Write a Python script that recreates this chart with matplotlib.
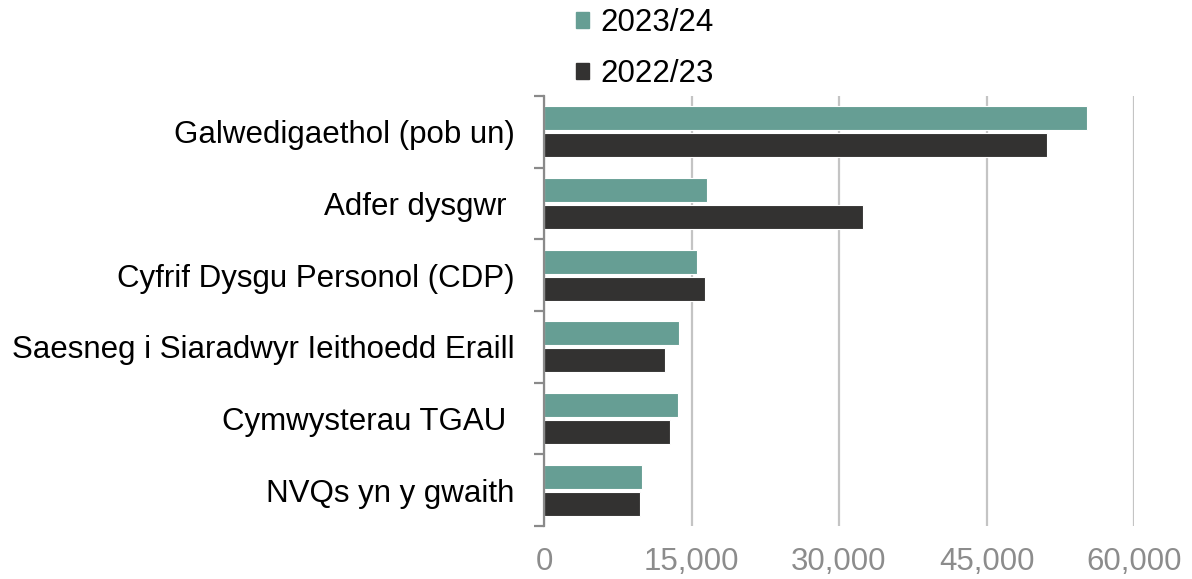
import numpy as np
import matplotlib.pyplot as plt
from matplotlib.patches import Patch
from matplotlib.ticker import FuncFormatter

plt.rcParams['font.family'] = ['Liberation Sans', 'DejaVu Sans']

categories = ['Galwedigaethol (pob un)', 'Adfer dysgwr ', 'Cyfrif Dysgu Personol (CDP)',
              'Saesneg i Siaradwyr Ieithoedd Eraill', 'Cymwysterau TGAU ', 'NVQs yn y gwaith']
vals_2324 = [55250, 16600, 15550, 13750, 13650, 9930]
vals_2223 = [51200, 32400, 16400, 12330, 12770, 9730]
series_names = ['2023/24', '2022/23']
teal = '#669e94'
dark = '#333231'
fs = 22.5

fig = plt.figure(figsize=(11.92, 5.79), dpi=100)
ax = fig.add_axes([544/1192, 1-526/579, (1134-544)/1192, (526-96)/579])

n = len(categories)
pos = np.arange(n)[::-1].astype(float)
h = 0.335
ax.barh(pos + h/2 + 0.02, vals_2324, height=h, color=teal, edgecolor='white', linewidth=0.8)
ax.barh(pos - h/2 - 0.02, vals_2223, height=h, color=dark, edgecolor='white', linewidth=0.8)

ax.set_xlim(0, 60000)
ax.set_ylim(-0.5, n - 0.5)
ax.set_xticks([0, 15000, 30000, 45000, 60000])
ax.xaxis.set_major_formatter(FuncFormatter(lambda v, p: f'{int(v):,}'))
ax.tick_params(axis='x', length=0, labelsize=fs, labelcolor='#8c8c8c', pad=15)
ax.grid(axis='x', color='#c4c4c4', linewidth=1.6)
ax.set_axisbelow(True)

# category labels at centres, tick marks at boundaries
ax.set_yticks(pos)
ax.set_yticklabels(categories, fontsize=fs)
ax.tick_params(axis='y', which='major', length=0, pad=21)
ax.set_yticks(np.arange(n + 1) - 0.5, minor=True)
ax.tick_params(axis='y', which='minor', length=7, width=1.6, color='#8a8a8a', direction='out')

for s in ['top', 'right', 'bottom']:
    ax.spines[s].set_visible(False)
ax.spines['left'].set_color('#8a8a8a')
ax.spines['left'].set_linewidth(1.6)

handles = [Patch(color=teal), Patch(color=dark)]
fig.legend(handles, series_names, loc='upper left', bbox_to_anchor=(576/1192, 1 - 8/579),
           frameon=False, fontsize=fs, handlelength=0.42, handleheight=0.42,
           handletextpad=0.35, labelspacing=0.68, borderpad=0, borderaxespad=0)

fig.savefig('out.png', dpi=100)
